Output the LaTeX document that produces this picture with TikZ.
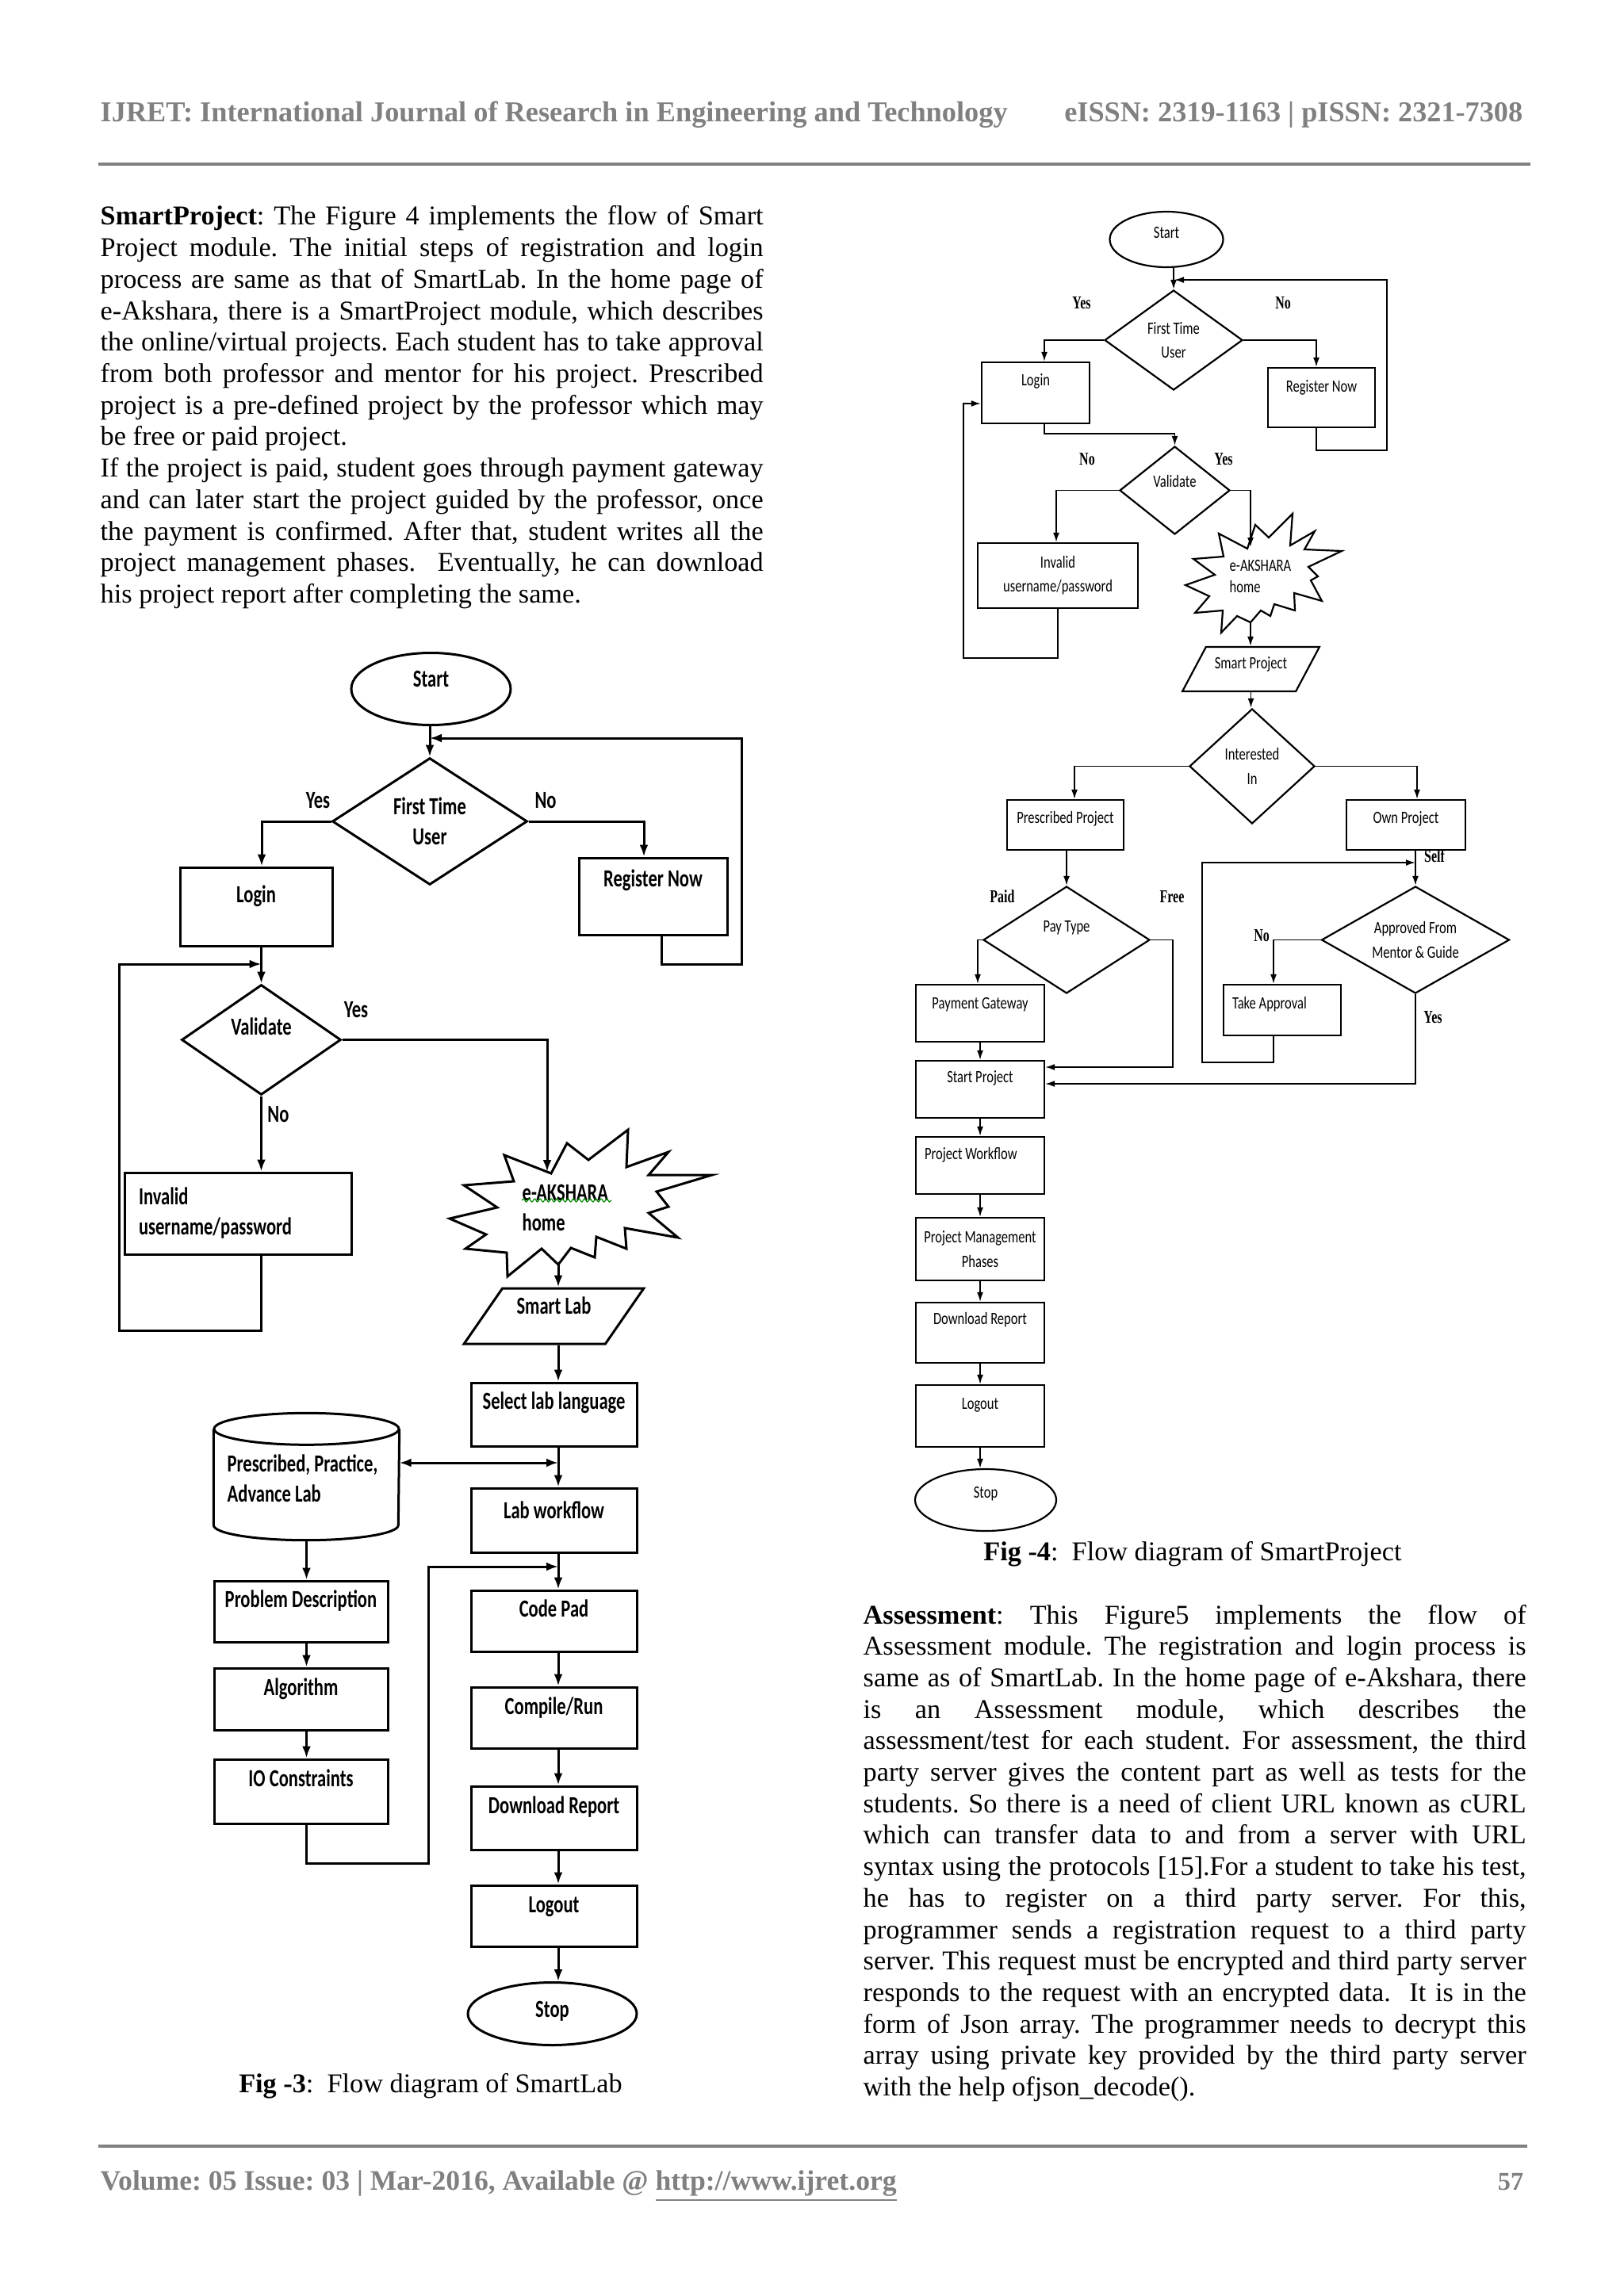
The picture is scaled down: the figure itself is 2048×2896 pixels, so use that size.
\documentclass[tikz,border=0pt]{standalone}
\usepackage{fontspec}
\usepackage{graphicx}
\setmainfont{Liberation Serif}
\newfontfamily\figAfam[FakeStretch=0.73]{Carlito}
\newfontfamily\figBfam[FakeStretch=0.76]{Carlito}
\newfontfamily\lblfam[FakeStretch=0.7]{Liberation Serif}
\usetikzlibrary{shapes.geometric,arrows.meta,decorations.pathmorphing}
\definecolor{hdrgray}{RGB}{128,128,128}
\newlength\colw
\setlength\colw{83.6mm}
\newcommand\jline[3]{\node[bodytxt] (#1) at (#2) {\makebox[\colw][s]{#3}};}
\newcommand\lline[3]{\node[bodytxt] (#1) at (#2) {\makebox[\colw][l]{#3}};}
\frenchspacing

\begin{document}
\frenchspacing
\begin{tikzpicture}[x=0.1mm,y=-0.1mm,
  bodytxt/.style={anchor=base west, inner sep=0pt, font=\fontsize{9.75}{11.25}\selectfont},
  hdr/.style={inner sep=0pt, text=hdrgray, font=\bfseries\fontsize{10}{12}\selectfont},
  f3font/.style={font=\figAfam\bfseries\fontsize{8.8}{10.8}\selectfont},
  f3box/.style={draw, line width=0.3mm, inner xsep=0pt, inner ysep=0pt, f3font},
  f3line/.style={line width=0.3mm},
  f3arr/.style={line width=0.3mm, -{Latex[length=1.5mm,width=1.1mm]}},
  f3dbl/.style={line width=0.3mm, {Latex[length=1.5mm,width=1.1mm]}-{Latex[length=1.5mm,width=1.1mm]}},
  f3lbl/.style={f3font, inner sep=0pt},
  f4font/.style={font=\figBfam\fontsize{6.2}{8.6}\selectfont},
  f4box/.style={draw, line width=0.22mm, inner xsep=0pt, inner ysep=0pt, f4font},
  f4line/.style={line width=0.2mm},
  f4arr/.style={line width=0.18mm, -{Latex[length=1.2mm,width=0.8mm]}},
  f4lbl/.style={inner sep=0pt, font=\lblfam\bfseries\fontsize{6.5}{8}\selectfont}]

\fill[white] (0,0) rectangle (2048,2896);
\useasboundingbox (0,0) rectangle (2048,2896);

% ---------------- header / footer ----------------
\node[hdr, anchor=base west] (hdrL) at (126,154) {\resizebox{114.4mm}{!}{IJRET: International Journal of Research in Engineering and Technology}};
\node[hdr, anchor=base east] (hdrR) at (1921,154) {\resizebox{57.8mm}{!}{eISSN: 2319-1163 | pISSN: 2321-7308}};
\draw[hdrgray, line width=0.35mm] (124,207) -- (1930,207);
\draw[hdrgray, line width=0.45mm] (124,2707) -- (1926,2707);
\node[hdr, anchor=base west] (ftrL) at (126,2762) {\resizebox{100.4mm}{!}{Volume: 05 Issue: 03 | Mar-2016, Available @ \underline{http://www.ijret.org}}};
\node[hdr, anchor=base east, font=\bfseries\fontsize{9.2}{11}\selectfont] (ftrR) at (1922,2762) {57};

% ---------------- left column text ----------------
\jline{L1}{126,284}{\textbf{SmartProject}: The Figure 4 implements the flow of Smart}
\jline{L2}{126,323.7}{Project module. The initial steps of registration and login}
\jline{L3}{126,363.4}{process are same as that of SmartLab. In the home page of}
\jline{L4}{126,403.1}{e-Akshara, there is a SmartProject module, which describes}
\jline{L5}{126,442.8}{the online/virtual projects. Each student has to take approval}
\jline{L6}{126,482.5}{from both professor and mentor for his project. Prescribed}
\jline{L7}{126,522.2}{project is a pre-defined project by the professor which may}
\lline{L8}{126,561.9}{be free or paid project.}
\jline{L9}{126,601.6}{If the project is paid, student goes through payment gateway}
\jline{L10}{126,641.3}{and can later start the project guided by the professor, once}
\jline{L11}{126,681}{the payment is confirmed. After that, student writes all the}
\jline{L12}{126,720.7}{project management phases.~ Eventually, he can download}
\lline{L13}{126,760.4}{his project report after completing the same.}

% ---------------- right column text ----------------
\jline{R1}{1088,2048}{\textbf{Assessment}: This Figure5 implements the flow of}
\jline{R2}{1088,2087.7}{Assessment module. The registration and login process is}
\jline{R3}{1088,2127.4}{same as of SmartLab. In the home page of e-Akshara, there}
\jline{R4}{1088,2167.1}{is an Assessment module, which describes the}
\jline{R5}{1088,2206.8}{assessment/test for each student. For assessment, the third}
\jline{R6}{1088,2246.5}{party server gives the content part as well as tests for the}
\jline{R7}{1088,2286.2}{students. So there is a need of client URL known as cURL}
\jline{R8}{1088,2325.9}{which can transfer data to and from a server with URL}
\jline{R9}{1088,2365.6}{syntax using the protocols [15].For a student to take his test,}
\jline{R10}{1088,2405.3}{he has to register on a third party server. For this,}
\jline{R11}{1088,2445}{programmer sends a registration request to a third party}
\jline{R12}{1088,2484.7}{server. This request must be encrypted and third party server}
\jline{R13}{1088,2524.4}{responds to the request with an encrypted data.~ It is in the}
\jline{R14}{1088,2564.1}{form of Json array. The programmer needs to decrypt this}
\jline{R15}{1088,2603.8}{array using private key provided by the third party server}
\lline{R16}{1088,2643.5}{with the help ofjson\_decode().}

% ---------------- captions ----------------
\node[anchor=base, inner sep=0pt, font=\fontsize{9.75}{11}\selectfont] (cap3) at (543,2639) {\textbf{Fig -3}:\ \ Flow diagram of SmartLab};
\node[anchor=base, inner sep=0pt, font=\fontsize{9.75}{11}\selectfont] (cap4) at (1504,1968) {\textbf{Fig -4}:\ \ Flow diagram of SmartProject};

% ================= FIGURE 3 =================
\node[f3box, ellipse, minimum width=20.1mm, minimum height=9.1mm, text height=2mm, text depth=2.6mm] (start) at (543.5,869) {Start};
\node[f3box, diamond, aspect=1.54, minimum width=24.6mm, minimum height=16mm, align=center] (ftu) at (542,1036) {First Time\\User};
\node[f3box, minimum width=19.2mm, minimum height=9.9mm, text height=4.4mm, text depth=5.5mm] (login) at (323,1143.5) {Login};
\node[f3box, minimum width=18.7mm, minimum height=9.7mm, text height=3.6mm, text depth=6.1mm] (reg) at (823.5,1130.5) {Register Now};
\node[f3box, diamond, aspect=1.45, minimum width=20.1mm, minimum height=13.9mm, text height=2mm, text depth=3.3mm] (val) at (329.5,1311.5) {Validate};
\node[f3box, minimum width=28.6mm, minimum height=10.3mm, text width=25mm, inner xsep=1.8mm, align=left] (inv) at (300,1530.5) {Invalid\\username/password};

% starburst e-AKSHARA home
\draw[f3line, line join=miter] (636,1457) -- (695,1480) -- (715,1442) -- (742,1463) -- (792,1425) -- (790,1472) -- (843,1453) -- (818,1482) -- (898,1482) -- (828,1503) -- (843,1522) -- (818,1530) -- (855,1561) -- (788,1549) -- (790,1575) -- (752,1560) -- (750,1586) -- (720,1574) -- (704,1595) -- (683,1575) -- (640,1610) -- (639,1580) -- (587,1575) -- (613,1557) -- (567,1537) -- (627,1523) -- (585,1495) -- (648,1490) -- cycle;
\node[f3font, anchor=west, align=left, inner sep=0pt] (star3) at (658,1523) {e-AKSHARA\\home};
\draw[green!55!black, line width=0.12mm, decorate, decoration={snake, amplitude=0.2mm, segment length=0.7mm}] (658,1514) -- (771,1514);
\coordinate (s3top) at (690,1478);
\coordinate (s3bot) at (704,1595);

\node[f3box, trapezium, trapezium left angle=63.4, trapezium right angle=116.6, trapezium stretches=true, minimum width=22.7mm, minimum height=7mm, text height=3.2mm, text depth=3.8mm] (slab) at (698.5,1660) {Smart Lab};

\node[f3box, minimum width=20.9mm, minimum height=8mm, text height=3.3mm, text depth=4.7mm] (sel) at (698.5,1784) {Select lab language};
\node[f3box, minimum width=20.9mm, minimum height=8.1mm, text height=3.8mm, text depth=4.3mm] (lw) at (698.5,1917.5) {Lab workflow};
\node[f3box, minimum width=20.9mm, minimum height=7.7mm, text height=3.3mm, text depth=4.4mm] (cp) at (698.5,2044.5) {Code Pad};
\node[f3box, minimum width=20.9mm, minimum height=7.7mm, text height=3.4mm, text depth=4.3mm] (cr) at (698.5,2166.5) {Compile/Run};
\node[f3box, minimum width=20.9mm, minimum height=8mm, text height=3.4mm, text depth=4.6mm] (dr) at (698.5,2293) {Download Report};
\node[f3box, minimum width=20.9mm, minimum height=7.7mm, text height=3.4mm, text depth=4.3mm] (lo) at (698.5,2416.5) {Logout};
\node[f3box, ellipse, minimum width=21.3mm, minimum height=7.9mm, text height=2.4mm, text depth=1.6mm] (stop) at (696.5,2540) {Stop};

% cylinder
\node[minimum width=23.3mm, minimum height=15.9mm, inner sep=0pt] (cyl) at (386.5,1862.5) {};
\draw[f3line] ([yshift=-2mm]cyl.north west) -- ([yshift=1.9mm]cyl.south west) arc[start angle=180, end angle=360, x radius=11.65mm, y radius=1.9mm] -- ([yshift=-2mm]cyl.north east);
\draw[f3line] ([yshift=-2mm]cyl.north) ellipse [x radius=11.65mm, y radius=2mm];
\node[f3font, anchor=west, align=left, inner sep=0pt] (cyltxt) at (286,1865) {Prescribed, Practice,\\Advance Lab};

\node[f3box, minimum width=21.9mm, minimum height=7.7mm, text height=3.3mm, text depth=4.4mm] (pd) at (379.5,2032.5) {Problem Description};
\node[f3box, minimum width=21.9mm, minimum height=7.8mm, text height=3.4mm, text depth=4.4mm] (alg) at (379.5,2143) {Algorithm};
\node[f3box, minimum width=21.9mm, minimum height=8.1mm, text height=3.4mm, text depth=4.7mm] (io) at (379.5,2259.5) {IO Constraints};

% labels fig 3
\node[f3lbl] (y31) at (401,1010) {Yes};
\node[f3lbl] (n31) at (688,1010) {No};
\node[f3lbl] (y32) at (449,1274) {Yes};
\node[f3lbl] (n32) at (351,1406) {No};

% connectors fig 3
\draw[f3arr] (start.south -| ftu.north) -- (ftu.north);
\coordinate (r3c) at (935,1216);
\coordinate (j3) at (542,931);
\draw[f3arr] ([xshift=1.05mm]reg.south) |- (r3c) |- (j3);
\draw[f3arr] (ftu.west) -| ([xshift=0.7mm]login.north);
\draw[f3arr] (ftu.east) -| ([xshift=-1.15mm]reg.north);
\draw[f3arr] (login.south -| val.north) -- (val.north);
\coordinate (i3a) at (150,1678);
\coordinate (i3t) at (329.5,1216);
\draw[f3arr] (inv.south -| val.north) |- (i3a) |- (i3t);
\draw[f3arr] (val.east) -| (s3top);
\draw[f3arr] (val.south) -- (val.south |- inv.north);
\draw[f3arr] (s3bot) -- (s3bot |- slab.north);
\draw[f3arr] (slab.south -| s3bot) -- (sel.north -| s3bot);
\draw[f3arr] (sel.south -| s3bot) -- (lw.north -| s3bot);
\coordinate (dA) at (704,1845);
\draw[f3dbl] (dA -| cyl.east) -- (dA);
\draw[f3arr] (lw.south -| s3bot) -- (cp.north -| s3bot);
\coordinate (io1) at (540,2350);
\coordinate (io2) at (704,1976);
\draw[f3arr] (io.south -| cyl.south) |- (io1) |- (io2);
\draw[f3arr] (cp.south -| s3bot) -- (cr.north -| s3bot);
\draw[f3arr] (cr.south -| s3bot) -- (dr.north -| s3bot);
\draw[f3arr] (dr.south -| s3bot) -- (lo.north -| s3bot);
\draw[f3arr] (lo.south -| s3bot) -- (stop.north -| s3bot);
\draw[f3arr] (cyl.south) -- (cyl.south |- pd.north);
\draw[f3arr] (pd.south -| cyl.south) -- (alg.north -| cyl.south);
\draw[f3arr] (alg.south -| cyl.south) -- (io.north -| cyl.south);

% ================= FIGURE 4 =================
\node[f4box, ellipse, minimum width=14.3mm, minimum height=7mm, text height=1.5mm, text depth=1.7mm] (start4) at (1471,302) {Start};
\node[f4box, diamond, aspect=1.38, minimum width=17.4mm, minimum height=12.6mm, align=center] (ftu4) at (1480,429) {First Time\\User};
\node[f4box, minimum width=13.6mm, minimum height=7.7mm, text height=2.9mm, text depth=4.8mm] (login4) at (1306,495.5) {Login};
\node[f4box, minimum width=13.5mm, minimum height=7.5mm, text height=3mm, text depth=4.5mm] (reg4) at (1666.5,501.5) {Register Now};
\node[f4box, diamond, aspect=1.25, minimum width=13.9mm, minimum height=11.1mm, text height=1.5mm, text depth=2.4mm] (val4) at (1481.5,618.5) {Validate};
\node[f4box, minimum width=20.2mm, minimum height=8.2mm, align=center] (inv4) at (1334,726) {Invalid\\username/password};

\draw[f4line, line width=0.22mm, line join=miter] (1537,673) -- (1573,692) -- (1583,662) -- (1600,678) -- (1630,648) -- (1627,688) -- (1658,670) -- (1645,693) -- (1692,695) -- (1650,715) -- (1662,727) -- (1653,732) -- (1667,758) -- (1632,748) -- (1633,770) -- (1607,762) -- (1602,777) -- (1590,770) -- (1577,785) -- (1560,777) -- (1540,798) -- (1542,770) -- (1507,773) -- (1525,752) -- (1495,738) -- (1532,725) -- (1505,705) -- (1543,702) -- cycle;
\node[anchor=west, align=left, inner sep=0pt, font=\figBfam\fontsize{6.2}{7.5}\selectfont] (star4) at (1550,727) {e-AKSHARA\\home};
\coordinate (s4top) at (1577,690);
\coordinate (s4bot) at (1577,785);

\node[f4box, trapezium, trapezium left angle=66.8, trapezium right angle=113.2, trapezium stretches=true, minimum width=17.3mm, minimum height=5.6mm, text height=2.75mm, text depth=2.85mm] (sp) at (1577.5,844) {Smart Project};
\node[f4box, diamond, aspect=1.09, minimum width=15.8mm, minimum height=14.5mm, align=center] (int) at (1579,966.5) {Interested\\In};
\node[f4box, minimum width=14.7mm, minimum height=6.3mm, text height=2.9mm, text depth=3.4mm] (pp) at (1343.5,1040.5) {Prescribed Project};
\node[f4box, minimum width=15mm, minimum height=6.3mm, text height=2.9mm, text depth=3.4mm] (op) at (1773,1040.5) {Own Project};
\node[f4box, diamond, aspect=1.56, minimum width=21mm, minimum height=13.5mm, text height=1.5mm, text depth=3.6mm] (pt) at (1345,1185.5) {Pay Type};
\node[f4box, diamond, aspect=1.76, minimum width=23.7mm, minimum height=13.5mm, align=center] (amg) at (1785,1185.5) {Approved From\\Mentor \& Guide};
\node[f4box, minimum width=16.2mm, minimum height=7.2mm, text height=3mm, text depth=4.2mm] (pg) at (1236,1278) {Payment Gateway};
\node[f4box, minimum width=14.8mm, minimum height=6.4mm, text height=3mm, text depth=3.4mm] (ta) at (1617,1274) {\makebox[12.6mm][l]{Take Approval}};
\node[f4box, minimum width=16.2mm, minimum height=7.2mm, text height=2.7mm, text depth=4.5mm] (spj) at (1236,1374) {Start Project};
\node[f4box, minimum width=16.2mm, minimum height=7.2mm, text height=2.8mm, text depth=4.4mm] (pw) at (1236,1470) {\makebox[14mm][l]{Project Workflow}};
\node[f4box, minimum width=16.2mm, minimum height=7.9mm, align=center] (pmp) at (1236,1575.5) {Project Management\\Phases};
\node[f4box, minimum width=16.2mm, minimum height=7.6mm, text height=2.7mm, text depth=4.9mm] (dr4) at (1236,1681) {Download Report};
\node[f4box, minimum width=16.2mm, minimum height=7.8mm, text height=3mm, text depth=4.8mm] (lo4) at (1236,1786) {Logout};
\node[f4box, ellipse, minimum width=17.8mm, minimum height=7.8mm, text height=1.4mm, text depth=2mm] (stop4) at (1243,1892) {Stop};

% labels fig 4
\node[f4lbl] (y41) at (1364,382) {Yes};
\node[f4lbl] (n41) at (1618,382) {No};
\node[f4lbl] (n42) at (1371,579) {No};
\node[f4lbl] (y42) at (1543,579) {Yes};
\node[f4lbl] (paid) at (1264,1131) {Paid};
\node[f4lbl] (free) at (1478,1131) {Free};
\node[f4lbl] (self) at (1809,1080) {Self};
\node[f4lbl] (n43) at (1591,1180) {No};
\node[f4lbl] (y43) at (1807,1283) {Yes};

% connectors fig 4
\draw[f4arr] (start4.south -| ftu4.north) -- (ftu4.north);
\coordinate (r4c) at (1749,568);
\coordinate (j4) at (1481,353);
\draw[f4arr] ([xshift=-0.65mm]reg4.south) |- (r4c) |- (j4);
\draw[f4arr] (ftu4.west) -| ([xshift=1.1mm]login4.north);
\draw[f4arr] (ftu4.east) -| ([xshift=-0.65mm]reg4.north);
\draw[f4arr] ([xshift=1.1mm]login4.south) -- ++(0,12) -| (val4.north);
\draw[f4arr] (val4.west) -| ([xshift=-0.2mm]inv4.north);
\draw[f4arr] (val4.east) -| (s4top);
\coordinate (i4a) at (1215,830);
\draw[f4arr] (inv4.south) |- (i4a) |- ([yshift=-1.35mm]login4.west);
\draw[f4arr] (s4bot) -- (s4bot |- sp.north);
\draw[f4arr] (sp.south) -- (sp.south |- int.north);
\draw[f4arr] (int.west) -| ([xshift=1.15mm]pp.north);
\draw[f4arr] (int.east) -| ([xshift=1.4mm]op.north);
\draw[f4arr] (pp.south -| pt.north) -- (pt.north);
\draw[f4arr] (pt.west) -| ([xshift=-0.3mm]pg.north);
\coordinate (f4c) at (1479,1346);
\draw[f4arr] (pt.east) -| (f4c) -- (f4c -| spj.east);
\draw[f4arr] (pg.south) -- (spj.north);
\draw[f4arr] (amg.north |- op.south) -- (amg.north);
\coordinate (t4a) at (1516,1340);
\coordinate (t4t) at (1785,1088);
\draw[f4arr] ([xshift=-1.1mm]ta.south) |- (t4a) |- (t4t);
\draw[f4arr] (amg.west) -| ([xshift=-1.1mm]ta.north);
\coordinate (y4c) at (1785,1367);
\draw[f4arr] (amg.south) -- (y4c) -- (y4c -| spj.east);
\draw[f4arr] (spj.south) -- (pw.north);
\draw[f4arr] (pw.south) -- (pmp.north);
\draw[f4arr] (pmp.south) -- (dr4.north);
\draw[f4arr] (dr4.south) -- (lo4.north);
\draw[f4arr] (lo4.south) -- (lo4.south |- stop4.north);
\end{tikzpicture}
\end{document}
